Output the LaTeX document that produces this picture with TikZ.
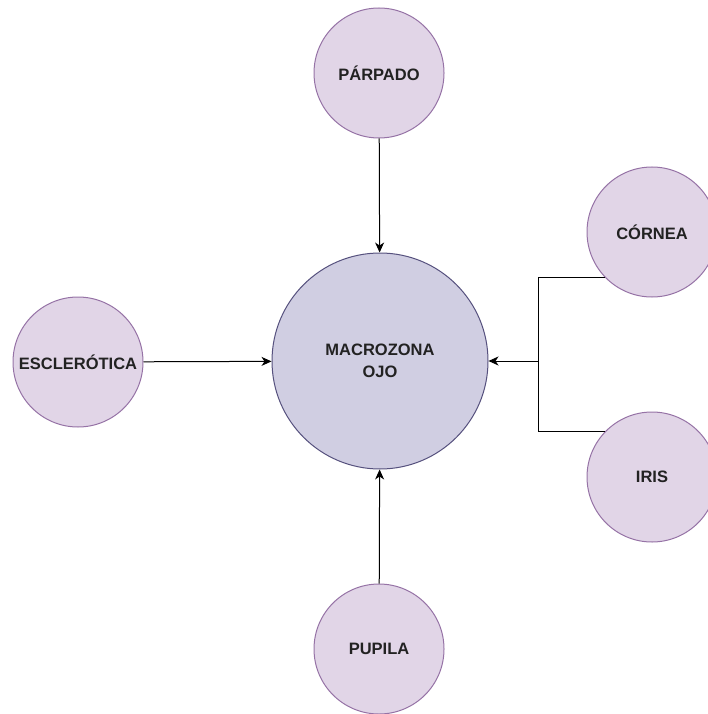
\documentclass[tikz,border=0pt]{standalone}
\usepackage{fontspec}
\setmainfont{Liberation Sans}
\usetikzlibrary{arrows.meta}
\definecolor{smallfill}{HTML}{E1D5E7}
\definecolor{smalldraw}{HTML}{9673A6}
\definecolor{bigfill}{HTML}{D0CEE2}
\definecolor{bigdraw}{HTML}{56517E}
\definecolor{txt}{HTML}{222222}
\begin{document}
\begin{tikzpicture}[x=1pt,y=-1pt,
  part/.style={circle,draw=smalldraw,fill=smallfill,line width=1pt,minimum size=130pt,inner sep=0pt,
    font=\fontsize{16.5}{20}\selectfont\bfseries,text=txt,align=center},
  core/.style={circle,draw=bigdraw,fill=bigfill,line width=1pt,minimum size=216pt,inner sep=0pt,
    font=\fontsize{16.5}{22}\selectfont\bfseries,text=txt,align=center},
  link/.style={draw=black,line width=1pt},
  arr/.style={link,-{Stealth[length=10pt,width=9pt,inset=3pt]}}]
\useasboundingbox (0,0) rectangle (707,714);
\node[core] (macro) at (380,361) {MACROZONA\\OJO};
\node[part] (parpado) at (379,73) {PÁRPADO};
\node[part] (cornea) at (652,232) {CÓRNEA};
\node[part] (iris) at (652,477) {IRIS};
\node[part] (escl) at (78,362) {ESCLERÓTICA};
\node[part] (pupila) at (379,649) {PUPILA};
\coordinate (j) at (538,361);
\draw[arr] (parpado) -- (macro);
\draw[arr] (pupila) -- (macro);
\draw[arr] (escl) -- (macro);
\draw[link] (cornea.224) -| (j);
\draw[link] (iris.136) -| (j);
\draw[arr] (j) -- (macro);
\end{tikzpicture}
\end{document}
